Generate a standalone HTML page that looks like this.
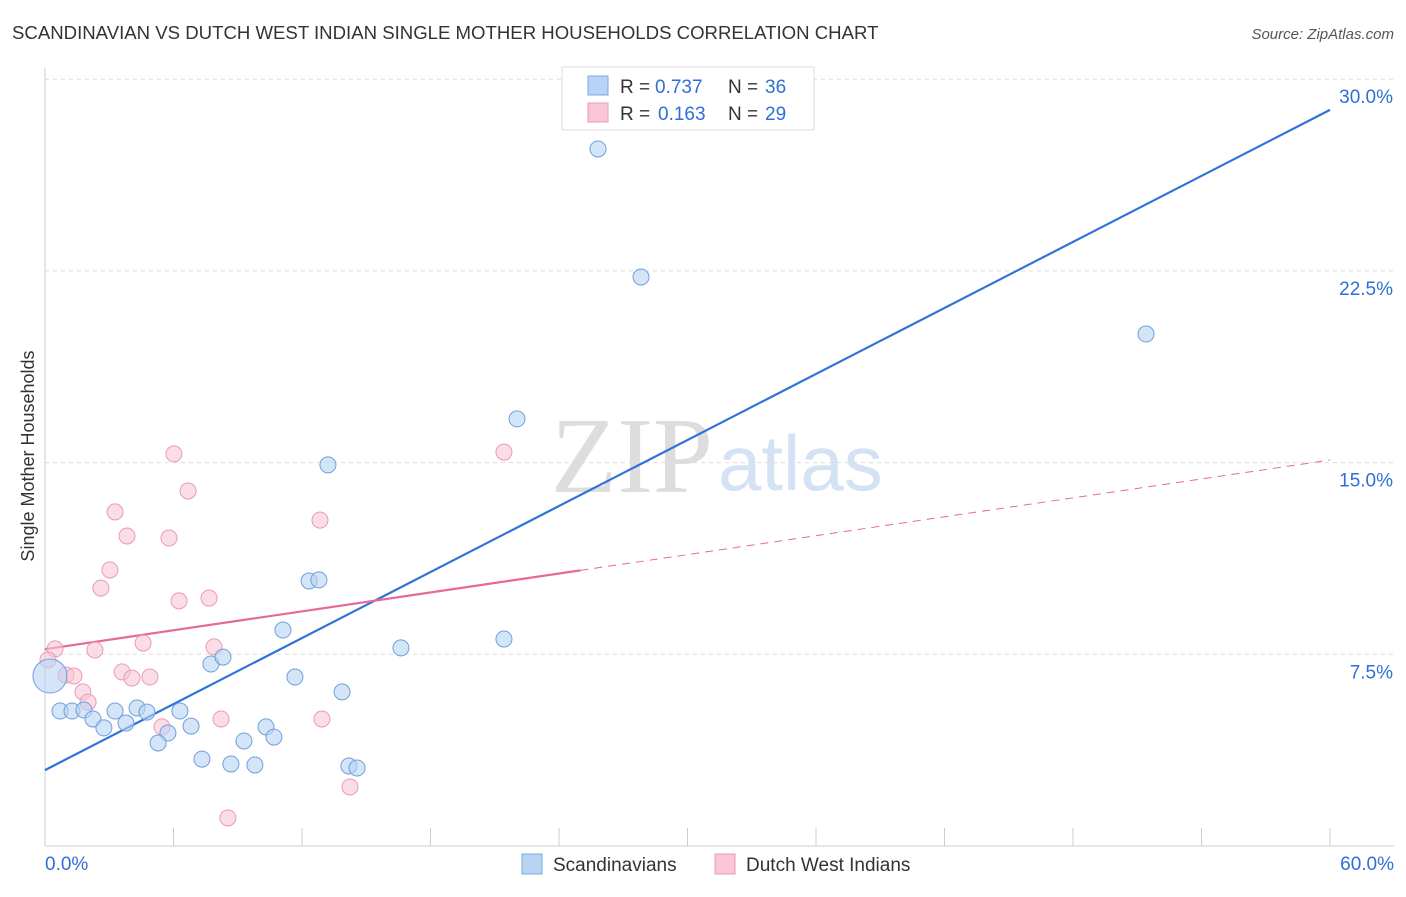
<!DOCTYPE html>
<html><head><meta charset="utf-8"><style>
body{margin:0;background:#fff;font-family:"Liberation Sans",sans-serif}
svg text{font-family:"Liberation Sans",sans-serif}
</style></head><body>
<svg id="chart" width="1406" height="892">
<text x="12" y="39" font-size="18.6" fill="#333">SCANDINAVIAN VS DUTCH WEST INDIAN SINGLE MOTHER HOUSEHOLDS CORRELATION CHART</text>
<text x="1394" y="39" font-size="15" fill="#555" font-style="italic" text-anchor="end">Source: ZipAtlas.com</text>
<text x="713" y="492" font-size="108" fill="#ddd" text-anchor="end" style="font-family:'Liberation Serif',serif">ZIP</text>
<text x="718" y="490" font-size="78" fill="#d4e2f4">atlas</text>
<text transform="translate(34,456) rotate(-90)" font-size="18" fill="#333" text-anchor="middle">Single Mother Households</text>
<g id="grid"></g><g id="axes"></g><g id="lines"></g><g id="pts"></g>
<g>
<rect x="562" y="67" width="252" height="63" fill="#fff" stroke="#ddd"/>
<rect x="588" y="76" width="20" height="19" fill="#b8d3f4" stroke="#7aa8e0"/>
<rect x="588" y="103" width="20" height="19" fill="#f9c6d5" stroke="#eb9ab3"/>
<text y="93" font-size="19" fill="#333"><tspan x="620">R =</tspan><tspan x="655" fill="#2f6fd6">0.737</tspan><tspan x="728">N =</tspan><tspan x="765" fill="#2f6fd6">36</tspan></text>
<text y="120" font-size="19" fill="#333"><tspan x="620">R =</tspan><tspan x="658" fill="#2f6fd6">0.163</tspan><tspan x="728">N =</tspan><tspan x="765" fill="#2f6fd6">29</tspan></text>
</g>
<g>
<rect x="522" y="854" width="20" height="20" fill="#b8d3f4" stroke="#7aa8e0"/>
<text x="553" y="871" font-size="19" fill="#333">Scandinavians</text>
<rect x="715" y="854" width="20" height="20" fill="#f9c6d5" stroke="#eb9ab3"/>
<text x="746" y="871" font-size="19" fill="#333">Dutch West Indians</text>
</g>
</svg>
<script>
const yTicks=[7.5,15,22.5,30];
const yTickLabels=["7.5%","15.0%","22.5%","30.0%"];
const xTicks=[0,6,12,18,24,30,36,42,48,54,60];
const xLabels=["0.0%","60.0%"];
const blueX=[25.82,27.83,51.41,22.04,13.21,12.33,12.79,11.11,16.62,21.43,7.75,8.31,11.67,13.87,0.70,1.26,1.82,3.27,4.30,4.76,6.30,2.24,3.78,2.75,6.82,10.32,10.69,5.74,5.28,9.29,7.33,8.68,9.80,14.19,14.57,0.23];
const blueY=[27.27,22.26,20.03,16.71,14.91,10.37,10.41,8.45,7.75,8.10,7.12,7.39,6.61,6.03,5.28,5.28,5.32,5.28,5.40,5.24,5.28,4.97,4.81,4.62,4.69,4.66,4.26,4.42,4.03,4.11,3.40,3.21,3.17,3.13,3.05,6.65];
const pinkX=[6.02,6.68,21.43,3.27,12.84,3.83,5.79,3.03,2.61,6.26,7.66,4.58,7.89,0.47,2.33,3.60,4.90,4.06,0.98,1.35,1.77,2.01,0.14,8.22,12.93,5.46,14.24,8.54];
const pinkY=[15.34,13.89,15.41,13.07,12.75,12.13,12.05,10.80,10.09,9.59,9.70,7.94,7.79,7.71,7.67,6.81,6.61,6.57,6.69,6.65,6.03,5.63,7.28,4.97,4.97,4.66,2.31,1.10];
const blueFit=[2.97,28.8];
const pinkFit=[7.7,15.1];
const pinkSolidEnd=25;
const X=v=>45+v/60*1285, Y=v=>846-v/7.5*191.7;
const NS="http://www.w3.org/2000/svg";
function mk(t,p,a){const e=document.createElementNS(NS,t);for(const k in a)e.setAttribute(k,a[k]);p.appendChild(e);return e;}
const g=document.getElementById('grid'),ax=document.getElementById('axes'),ln=document.getElementById('lines'),pt=document.getElementById('pts');
yTicks.forEach((t,i)=>{
 const l=mk('line',g,{x1:45,x2:1394,y1:Y(t),y2:Y(t),stroke:'#ddd','stroke-dasharray':'4,4'});
 
 
 const tx=mk('text',g,{x:1393,y:Y(t)+24,'font-size':19,fill:'#2f6fd6','text-anchor':'end'});tx.textContent=yTickLabels[i];
 
 
});
mk('line',ax,{x1:45,x2:45,y1:68,y2:846,stroke:'#ccc'});
mk('line',ax,{x1:45,x2:1394,y1:846,y2:846,stroke:'#ccc'});
xTicks.forEach(t=>{const l=mk('line',ax,{x1:X(t),x2:X(t),y1:828,y2:846,stroke:'#ccc'});
 
 });
const xl0=mk('text',ax,{x:45,y:870,'font-size':19,fill:'#2f6fd6'});xl0.textContent=xLabels[0];


const xl1=mk('text',ax,{x:1394,y:870,'font-size':19,fill:'#2f6fd6','text-anchor':'end'});xl1.textContent=xLabels[1];


const f=(a,x)=>a[0]+(a[1]-a[0])*x/60;
function addPts(xs,ys,fill,stroke,name){xs.forEach((x,i)=>{const r=(name==='scandinavian-point'&&i===xs.length-1)?17:8;
 const c=mk('circle',pt,{cx:X(x),cy:Y(ys[i]),r:r,fill:fill,stroke:stroke,'stroke-width':1,'fill-opacity':0.6});
 
 });}
addPts(pinkX,pinkY,'#f9c6d5','#eb9ab3','dutch-west-indian-point');
addPts(blueX,blueY,'#b8d3f4','#6f9fdc','scandinavian-point');
const bl=mk('line',ln,{x1:X(0),y1:Y(f(blueFit,0)),x2:X(60),y2:Y(f(blueFit,60)),stroke:'#2f73d8','stroke-width':2.2});


const pl=mk('line',ln,{x1:X(0),y1:Y(f(pinkFit,0)),x2:X(pinkSolidEnd),y2:Y(f(pinkFit,pinkSolidEnd)),stroke:'#e8689a','stroke-width':2.2});


const pd=mk('line',ln,{x1:X(pinkSolidEnd),y1:Y(f(pinkFit,pinkSolidEnd)),x2:X(60),y2:Y(f(pinkFit,60)),stroke:'#e8689a','stroke-width':1,'stroke-dasharray':'8,6'});


</script>
</body></html>
